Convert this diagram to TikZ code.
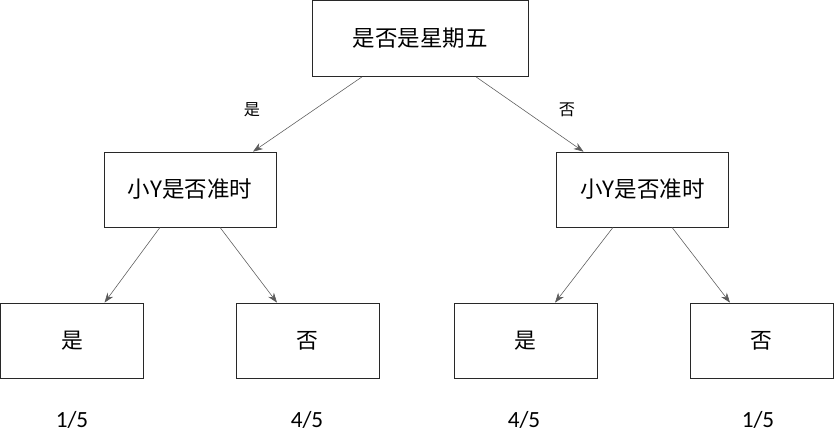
\documentclass[tikz,border=0pt]{standalone}
\usepackage{fontspec}
\setmainfont{Carlito}
\newfontfamily\cjk{Noto Sans CJK SC}
\usetikzlibrary{arrows.meta, calc}
\definecolor{edgegray}{RGB}{90, 90, 90}
\definecolor{linegray}{RGB}{40, 40, 40}

\begin{document}
\begin{tikzpicture}[
            x=0.025cm, y=-0.025cm,
            box/.style={draw=linegray, line width=0.5pt, minimum width=5.4cm, minimum height=1.9cm, inner sep=0pt, font=\cjk\fontsize{16}{18}\selectfont},
            midbox/.style={box, minimum width=4.3cm, minimum height=1.875cm},
            leaf/.style={box, minimum width=3.575cm, minimum height=1.875cm, font=\cjk\fontsize{15.5}{18}\selectfont},
            frac/.style={font=\fontsize{16.5}{18}\selectfont},
            lbl/.style={font=\cjk\fontsize{11.5}{13}\selectfont},
            arrow/.style={-{Stealth[length=7pt, width=5pt]}, edgegray, line width=0.4pt}
        ]
            \useasboundingbox (0,0) rectangle (835,435);

            \node[box] (root) at (420,38.5) {是否是星期五};

            \node[midbox] (ask1) at (190,189.5) {小Y是否准时};
            \node[midbox] (ask2) at (642.5,189.5) {小Y是否准时};

            \node[leaf] (yes1) at (72,340.5) {是};
            \node[leaf] (no1) at (307.5,340.5) {否};
            \node[leaf] (yes2) at (525.5,340.5) {是};
            \node[leaf] (no2) at (761.5,340.5) {否};

            \node[frac] (p1) at (72,420) {1/5};
            \node[frac] (p2) at (307,420) {4/5};
            \node[frac] (p3) at (524,420) {4/5};
            \node[frac] (p4) at (758,420) {1/5};

            \node[lbl] (lyes) at (252,110) {是};
            \node[lbl] (lno) at (567,110) {否};

            \draw[arrow] ($(root.south)+(-58,0)$) -- ($(ask1.north)+(63,0)$);
            \draw[arrow] ($(root.south)+(56,0)$) -- ($(ask2.north)+(-59,0)$);

            \draw[arrow] ($(ask1.south)+(-30,0)$) -- ($(yes1.north)+(32.5,0)$);
            \draw[arrow] ($(ask1.south)+(30,0)$) -- ($(no1.north)+(-30.5,0)$);
            \draw[arrow] ($(ask2.south)+(-29.5,0)$) -- ($(yes2.north)+(29.5,0)$);
            \draw[arrow] ($(ask2.south)+(29.5,0)$) -- ($(no2.north)+(-31.5,0)$);
        \end{tikzpicture}
\end{document}
